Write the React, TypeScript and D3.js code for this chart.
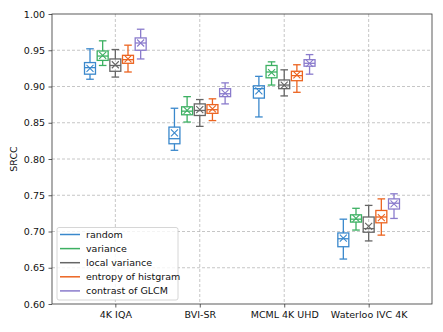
import React, { useEffect, useRef } from "react";
import * as d3 from "d3";

const categories = ["4K IQA", "BVI-SR", "MCML 4K UHD", "Waterloo IVC 4K"];
const methods = ["random", "variance", "local variance", "entropy of histgram", "contrast of GLCM"];
const colors = ["#3a88cc", "#3cb062", "#666666", "#ec6420", "#8a7bcc"];
const yTicks = [0.6, 0.65, 0.7, 0.75, 0.8, 0.85, 0.9, 0.95, 1.0];

// rows = methods, columns = categories
const whiskerHi = [
  [0.952, 0.870, 0.914, 0.717],
  [0.963, 0.886, 0.934, 0.732],
  [0.951, 0.882, 0.923, 0.736],
  [0.957, 0.883, 0.930, 0.745],
  [0.979, 0.905, 0.944, 0.752],
];
const q3 = [
  [0.933, 0.844, 0.901, 0.698],
  [0.949, 0.872, 0.929, 0.723],
  [0.938, 0.876, 0.909, 0.720],
  [0.943, 0.875, 0.921, 0.729],
  [0.967, 0.897, 0.937, 0.745],
];
const median = [
  [0.926, 0.828, 0.897, 0.690],
  [0.942, 0.866, 0.920, 0.717],
  [0.929, 0.867, 0.902, 0.704],
  [0.937, 0.868, 0.915, 0.720],
  [0.960, 0.890, 0.932, 0.739],
];
const q1 = [
  [0.917, 0.821, 0.884, 0.679],
  [0.936, 0.861, 0.912, 0.713],
  [0.921, 0.860, 0.897, 0.699],
  [0.932, 0.863, 0.908, 0.712],
  [0.950, 0.886, 0.928, 0.731],
];
const whiskerLo = [
  [0.910, 0.812, 0.858, 0.662],
  [0.929, 0.851, 0.902, 0.702],
  [0.913, 0.845, 0.887, 0.687],
  [0.920, 0.853, 0.892, 0.695],
  [0.938, 0.876, 0.917, 0.718],
];
const means = [
  [0.925, 0.836, 0.894, 0.691],
  [0.943, 0.867, 0.919, 0.718],
  [0.930, 0.868, 0.902, 0.707],
  [0.938, 0.869, 0.916, 0.719],
  [0.960, 0.891, 0.932, 0.738],
];
const offsets = [-0.3, -0.15, 0, 0.15, 0.3];

const W = 443;
const H = 332;
const left = 52;
const right = 432;
const top = 14;
const bottom = 304;
const font = "DejaVu Sans, sans-serif";

export default function App() {
  const ref = useRef<SVGSVGElement>(null);

  useEffect(() => {
    const svg = d3.select(ref.current);
    svg.selectAll("*").remove();

    const x = d3.scaleLinear().domain([0.25, 4.75]).range([left, right]);
    const y = d3.scaleLinear().domain([0.6, 1.0]).range([bottom, top]);

    svg.append("rect").attr("width", W).attr("height", H).attr("fill", "#fff");

    // grid
    const grid = svg.append("g").attr("stroke", "#b8b8b8").attr("stroke-width", 0.8)
      .attr("stroke-dasharray", "3,2");
    yTicks.slice(1, -1).forEach((t) => {
      grid.append("line").attr("x1", left).attr("x2", right).attr("y1", y(t)).attr("y2", y(t));
    });
    categories.forEach((c, i) => {
      grid.append("line").attr("x1", x(i + 1)).attr("x2", x(i + 1)).attr("y1", top).attr("y2", bottom);
    });

    // boxes
    const bw = x(0.13) - x(0);
    const cw = x(0.09) - x(0);
    methods.forEach((m, mi) => {
      const g = svg.append("g").attr("stroke", colors[mi]).attr("stroke-width", 1.3).attr("fill", "none");
      categories.forEach((c, ci) => {
        const cx = x(ci + 1 + offsets[mi]);
        g.append("rect")
          .attr("x", cx - bw / 2).attr("width", bw)
          .attr("y", y(q3[mi][ci])).attr("height", y(q1[mi][ci]) - y(q3[mi][ci]));
        g.append("line").attr("x1", cx - bw / 2).attr("x2", cx + bw / 2)
          .attr("y1", y(median[mi][ci])).attr("y2", y(median[mi][ci]));
        g.append("line").attr("x1", cx).attr("x2", cx)
          .attr("y1", y(q3[mi][ci])).attr("y2", y(whiskerHi[mi][ci]));
        g.append("line").attr("x1", cx).attr("x2", cx)
          .attr("y1", y(q1[mi][ci])).attr("y2", y(whiskerLo[mi][ci]));
        g.append("line").attr("x1", cx - cw / 2).attr("x2", cx + cw / 2)
          .attr("y1", y(whiskerHi[mi][ci])).attr("y2", y(whiskerHi[mi][ci]));
        g.append("line").attr("x1", cx - cw / 2).attr("x2", cx + cw / 2)
          .attr("y1", y(whiskerLo[mi][ci])).attr("y2", y(whiskerLo[mi][ci]));
        const my = y(means[mi][ci]);
        const s = 3.5;
        g.append("path")
          .attr("d", `M${cx - s},${my - s}L${cx + s},${my + s}M${cx - s},${my + s}L${cx + s},${my - s}`)
          .attr("stroke-width", 1.1);
      });
    });

    // axes
    const yAxis = svg.append("g").attr("transform", `translate(${left},0)`)
      .call(d3.axisLeft(y).tickValues(yTicks).tickFormat(d3.format(".2f")).tickSize(3.5).tickPadding(3.5));
    const xAxis = svg.append("g").attr("transform", `translate(0,${bottom})`)
      .call(d3.axisBottom(x).tickValues([1, 2, 3, 4]).tickFormat((d) => categories[(d as number) - 1])
        .tickSize(3.5).tickPadding(3.5));
    [yAxis, xAxis].forEach((a) => {
      a.select(".domain").remove();
      a.selectAll("text").attr("font-family", font).attr("font-size", 9.5).attr("fill", "#111");
      a.selectAll("line").attr("stroke", "#333").attr("stroke-width", 0.8);
    });

    svg.append("rect").attr("x", left).attr("y", top).attr("width", right - left).attr("height", bottom - top)
      .attr("fill", "none").attr("stroke", "#333").attr("stroke-width", 0.8);

    svg.append("text").attr("transform", `translate(17,${(top + bottom) / 2}) rotate(-90)`)
      .attr("text-anchor", "middle").attr("font-family", font).attr("font-size", 9.5).attr("fill", "#111")
      .text("SRCC");

    // legend
    const lg = svg.append("g");
    lg.append("rect").attr("x", 57).attr("y", 227.5).attr("width", 121).attr("height", 72.5).attr("rx", 2)
      .attr("fill", "#fff").attr("fill-opacity", 0.8).attr("stroke", "#ccc").attr("stroke-width", 0.8);
    methods.forEach((m, i) => {
      const ly = 234.5 + i * 14.1;
      lg.append("line").attr("x1", 60).attr("x2", 80).attr("y1", ly).attr("y2", ly)
        .attr("stroke", colors[i]).attr("stroke-width", 1.5);
      lg.append("text").attr("x", 86).attr("y", ly).attr("dy", "0.35em")
        .attr("font-family", font).attr("font-size", 9.5).attr("fill", "#111").text(m);
    });
  }, []);

  return (
    <div style={{ position: "fixed", left: 0, top: 0 }}>
      <svg ref={ref} width={W} height={H} style={{ display: "block" }} />
    </div>
  );
}
